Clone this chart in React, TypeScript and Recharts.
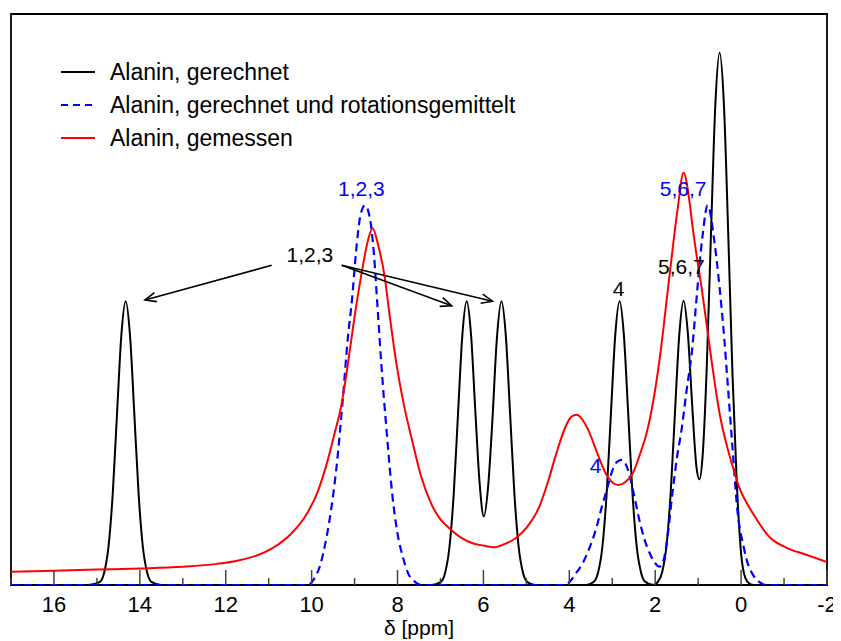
import { LineChart, Line, XAxis, YAxis, ReferenceArea, ReferenceLine, ReferenceDot, Legend } from 'recharts'

const FONT = '"Liberation Sans", Arial, Helvetica, sans-serif'

// [delta in ppm, intensity as fraction of frame height]
const gerechnet: [number, number][] = [
  [17, 0], [15.2, 0], [14.93, 0.0055], [14.83, 0.022], [14.73, 0.067], [14.63, 0.161], [14.53, 0.302],
  [14.43, 0.438], [14.33, 0.497], [14.23, 0.438], [14.13, 0.302], [14.03, 0.161], [13.93, 0.067],
  [13.83, 0.022], [13.73, 0.0055], [13.5, 0],
  [7.2, 0], [6.99, 0.0055], [6.89, 0.022], [6.79, 0.067], [6.69, 0.161], [6.59, 0.302], [6.49, 0.438],
  [6.39, 0.497], [6.29, 0.44], [6.19, 0.307], [6.09, 0.18], [5.99, 0.12], [5.89, 0.173], [5.79, 0.29],
  [5.69, 0.428], [5.58, 0.497], [5.48, 0.438], [5.38, 0.302], [5.28, 0.161], [5.18, 0.067], [5.08, 0.022],
  [4.98, 0.0055], [4.8, 0],
  [3.6, 0], [3.43, 0.0055], [3.33, 0.022], [3.23, 0.067], [3.13, 0.161], [3.03, 0.302], [2.93, 0.438],
  [2.83, 0.497], [2.73, 0.438], [2.63, 0.302], [2.53, 0.161], [2.43, 0.067], [2.33, 0.022], [2.23, 0.0055],
  [2.04, 0], [1.94, 0.0055], [1.84, 0.022], [1.74, 0.067], [1.64, 0.161], [1.54, 0.302], [1.44, 0.438],
  [1.34, 0.498], [1.24, 0.441], [1.14, 0.316], [1.04, 0.207], [0.97, 0.185], [0.9, 0.222], [0.8, 0.381],
  [0.7, 0.619], [0.6, 0.841], [0.5, 0.932], [0.4, 0.841], [0.3, 0.616], [0.2, 0.368], [0.1, 0.178],
  [0.0, 0.055], [-0.1, 0.012], [-0.2, 0.002], [-0.3, 0], [-2, 0],
]

const rotationsgemittelt: [number, number][] = [
  [17, 0], [10.1, 0], [9.95, 0.01], [9.8, 0.035], [9.65, 0.085], [9.55, 0.13], [9.42, 0.207], [9.28, 0.32],
  [9.16, 0.43], [9.06, 0.5], [8.97, 0.58], [8.87, 0.645], [8.76, 0.665], [8.65, 0.645], [8.55, 0.58],
  [8.46, 0.48], [8.38, 0.39], [8.25, 0.266], [8.11, 0.15], [8.0, 0.09], [7.88, 0.05], [7.75, 0.02],
  [7.6, 0.006], [7.45, 0],
  [4.1, 0], [4.0, 0.005], [3.85, 0.02], [3.69, 0.038], [3.53, 0.065], [3.37, 0.1], [3.25, 0.135],
  [3.13, 0.166], [3.0, 0.2], [2.9, 0.215], [2.78, 0.219], [2.65, 0.205], [2.5, 0.16], [2.37, 0.114],
  [2.25, 0.08], [2.13, 0.056], [2.0, 0.038], [1.9, 0.032], [1.8, 0.045], [1.74, 0.07], [1.6, 0.16],
  [1.5, 0.22], [1.39, 0.27], [1.27, 0.34], [1.13, 0.42], [1.04, 0.5], [0.9, 0.61], [0.78, 0.665],
  [0.62, 0.6], [0.5, 0.52], [0.39, 0.43], [0.32, 0.36], [0.2, 0.24], [0.08, 0.126], [-0.05, 0.07],
  [-0.13, 0.044], [-0.3, 0.015], [-0.45, 0.004], [-0.6, 0], [-2, 0],
]

const gemessen: [number, number][] = [
  [17, 0.023], [16, 0.025], [15, 0.027], [14, 0.029], [13, 0.032], [12.2, 0.037], [11.7, 0.043],
  [11.3, 0.051], [10.9, 0.065], [10.5, 0.088], [10.1, 0.126], [9.85, 0.165], [9.62, 0.22], [9.45, 0.27],
  [9.32, 0.31], [9.16, 0.385], [9.0, 0.47], [8.85, 0.54], [8.7, 0.6], [8.58, 0.625], [8.45, 0.595],
  [8.3, 0.54], [8.18, 0.47], [8.02, 0.385], [7.85, 0.315], [7.65, 0.25], [7.45, 0.19], [7.2, 0.14],
  [7.0, 0.115], [6.8, 0.1], [6.5, 0.082], [6.25, 0.073], [6.0, 0.069], [5.75, 0.066], [5.5, 0.072],
  [5.25, 0.082], [5.0, 0.1], [4.7, 0.137], [4.5, 0.18], [4.3, 0.231], [4.1, 0.275], [3.95, 0.295],
  [3.83, 0.298], [3.7, 0.29], [3.55, 0.27], [3.37, 0.235], [3.15, 0.195], [3.0, 0.18], [2.87, 0.175],
  [2.7, 0.18], [2.52, 0.196], [2.35, 0.23], [2.2, 0.266], [2.05, 0.32], [1.9, 0.394], [1.67, 0.54],
  [1.48, 0.657], [1.34, 0.722], [1.2, 0.67], [1.13, 0.627], [0.9, 0.51], [0.69, 0.394], [0.5, 0.3],
  [0.3, 0.235], [0.15, 0.196], [0.04, 0.17], [-0.1, 0.148], [-0.27, 0.126], [-0.66, 0.084],
  [-1.06, 0.065], [-1.52, 0.053], [-2, 0.04],
]

const xTicks = [17, 16, 15, 14, 13, 12, 11, 10, 9, 8, 7, 6, 5, 4, 3, 2, 1, 0, -1, -2]

const series = [
  { name: 'Alanin, gerechnet', points: gerechnet, color: '#000000', dash: undefined as string | undefined },
  { name: 'Alanin, gerechnet und rotationsgemittelt', points: rotationsgemittelt, color: '#0000ff', dash: '8 5' },
  { name: 'Alanin, gemessen', points: gemessen, color: '#ff0000', dash: undefined as string | undefined },
]

const peakLabels = [
  { text: '1,2,3', x: 10.04, y: 0.579, color: '#000000' },
  { text: '1,2,3', x: 8.84, y: 0.694, color: '#0000ff' },
  { text: '4', x: 2.85, y: 0.52, color: '#000000' },
  { text: '5,6,7', x: 1.39, y: 0.558, color: '#000000' },
  { text: '5,6,7', x: 1.35, y: 0.694, color: '#0000ff' },
  { text: '4', x: 3.39, y: 0.21, color: '#0000ff' },
]

const arrows = [
  { x1: 10.93, y1: 0.56, x2: 13.88, y2: 0.499 },
  { x1: 9.3, y1: 0.56, x2: 6.74, y2: 0.489 },
  { x1: 9.3, y1: 0.56, x2: 5.79, y2: 0.497 },
]

const toPoints = (arr: [number, number][]) => arr.map(([x, y]) => ({ x, y }))

const BottomTick = (props: any) => {
  const { x, y, payload } = props
  const major = payload.value % 2 === 0
  return (
    <g>
      <line x1={x} x2={x} y1={y} y2={y - (major ? 15 : 7)} stroke="#444" strokeWidth={1.5} />
      {major && (
        <text x={x} y={y + 27} textAnchor="middle" fontSize={22} fontFamily={FONT} fill="#000">
          {payload.value}
        </text>
      )}
    </g>
  )
}

const TopTick = (props: any) => {
  const { x, y, payload } = props
  const major = payload.value % 2 === 0
  return <line x1={x} x2={x} y1={y} y2={y + (major ? 15 : 7)} stroke="#444" strokeWidth={1.5} />
}

const Arrow = (props: any) => {
  const { x1, y1, x2, y2 } = props
  const a = Math.atan2(y2 - y1, x2 - x1)
  const len = 12
  const spread = 0.4
  return (
    <g stroke="#000" strokeWidth={1.6} fill="none">
      <line x1={x1} y1={y1} x2={x2} y2={y2} />
      <polyline
        points={`${x2 - len * Math.cos(a - spread)},${y2 - len * Math.sin(a - spread)} ${x2},${y2} ${x2 - len * Math.cos(a + spread)},${y2 - len * Math.sin(a + spread)}`}
      />
    </g>
  )
}

const LegendBox = () => (
  <svg width={580} height={160} style={{ display: 'block' }}>
    {series.map((s, i) => {
      const cy = 72 + i * 33
      return (
        <g key={s.name}>
          <line x1={61} x2={95} y1={cy} y2={cy} stroke={s.color} strokeWidth={2} strokeDasharray={s.dash ? '7 5' : undefined} />
          <text x={110} y={cy + 8} fontSize={23} fontFamily={FONT} fill="#000">
            {s.name}
          </text>
        </g>
      )
    })}
  </svg>
)

export default function App() {
  return (
    <div style={{ margin: '-8px 0 0 -8px', width: 841, height: 641, background: '#fff' }}>
      <LineChart width={841} height={641} margin={{ top: 14, right: 14, bottom: 0, left: 11 }}>
        <XAxis
          type="number"
          dataKey="x"
          domain={[-2, 17]}
          reversed
          allowDataOverflow
          ticks={xTicks}
          interval={0}
          height={56}
          tickSize={0}
          tickMargin={0}
          axisLine={false}
          tick={<BottomTick />}
          label={{ value: 'δ [ppm]', position: 'insideBottom', offset: 6, fontSize: 21, fontFamily: FONT, fill: '#000' }}
        />
        <XAxis
          xAxisId="top"
          orientation="top"
          type="number"
          dataKey="x"
          domain={[-2, 17]}
          reversed
          allowDataOverflow
          ticks={xTicks}
          interval={0}
          height={0}
          tickSize={0}
          tickMargin={0}
          axisLine={false}
          tick={<TopTick />}
        />
        <YAxis type="number" domain={[0, 1]} hide allowDataOverflow />
        <Legend
          layout="vertical"
          align="center"
          verticalAlign="middle"
          wrapperStyle={{ top: 0, left: 0, width: 580, height: 160 }}
          content={() => <LegendBox />}
        />
        {series.map((s) => (
          <Line
            key={s.name}
            data={toPoints(s.points)}
            dataKey="y"
            name={s.name}
            type="monotone"
            stroke={s.color}
            strokeWidth={s.dash ? 2.2 : 2}
            strokeDasharray={s.dash}
            dot={false}
            activeDot={false}
            isAnimationActive={false}
          />
        ))}
        {arrows.map((a, i) => (
          <ReferenceLine
            key={i}
            segment={[{ x: a.x1, y: a.y1 }, { x: a.x2, y: a.y2 }]}
            shape={(p: any) => <Arrow {...p} />}
          />
        ))}
        {peakLabels.map((l, i) => (
          <ReferenceDot
            key={i}
            x={l.x}
            y={l.y}
            r={0}
            shape={(p: any) => (
              <text
                x={p.cx}
                y={p.cy + 7.5}
                textAnchor="middle"
                fontSize={21}
                fontFamily={FONT}
                fill={l.color}
              >
                {l.text}
              </text>
            )}
          />
        ))}
        <ReferenceArea x1={17} x2={-2} y1={0} y2={1} fill="none" stroke="#000" strokeWidth={1.8} ifOverflow="visible" />
      </LineChart>
    </div>
  )
}
